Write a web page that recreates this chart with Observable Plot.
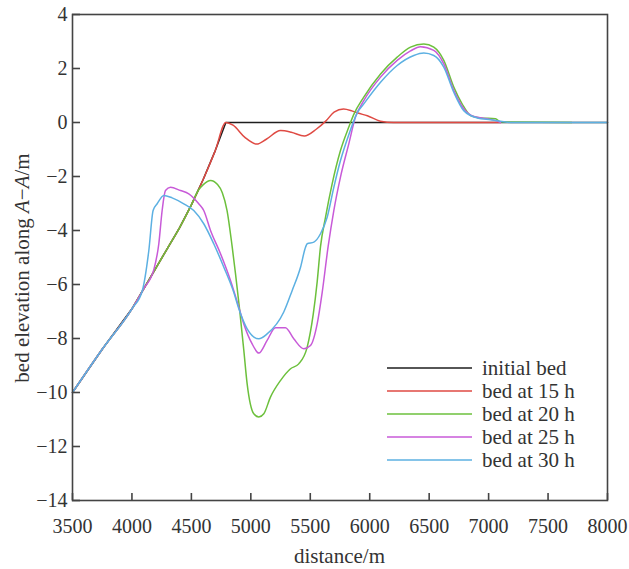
<!DOCTYPE html>
<html><head><meta charset="utf-8">
<script src="https://cdn.jsdelivr.net/npm/d3@7"></script>
<script src="https://cdn.jsdelivr.net/npm/@observablehq/plot@0.6"></script>
<style>body{margin:0;background:#fff;} svg text{font-family:"Liberation Serif","Times New Roman","DejaVu Serif",serif !important;}</style>
</head><body><div id="chart"></div>
<script>
const seriesNames = ["initial bed", "bed at 15 h", "bed at 20 h", "bed at 25 h", "bed at 30 h"];
const seriesColors = ["#1e1e1e", "#df4a43", "#6cc03c", "#c85ad8", "#5cb0e2"];
const xTicks = [3500, 4000, 4500, 5000, 5500, 6000, 6500, 7000, 7500, 8000];
const yTicks = [4, 2, 0, -2, -4, -6, -8, -10, -12, -14];

const bedX = [3500, 3750, 4000, 4100, 4200, 4300, 4400, 4500, 4600, 4700, 4790, 8000];
const bedY = [-10, -8.4, -6.9, -6.15, -5.4, -4.65, -3.9, -3.05, -2.1, -1.05, 0, 0];

const b15X = [3500, 3750, 4000, 4100, 4200, 4300, 4400, 4500, 4600, 4700, 4790, 4850, 4950, 5050, 5130, 5250, 5340, 5450, 5550, 5630, 5700, 5780, 5850, 5900, 5980, 6090, 6200, 7100];
const b15Y = [-10, -8.4, -6.9, -6.15, -5.4, -4.65, -3.9, -3.05, -2.1, -1.05, 0, -0.1, -0.55, -0.8, -0.62, -0.3, -0.36, -0.5, -0.25, 0.05, 0.38, 0.5, 0.43, 0.35, 0.25, 0.05, 0, 0];

const b20X = [3500, 3750, 4000, 4100, 4200, 4300, 4400, 4500, 4560, 4600, 4661, 4720, 4760, 4800, 4843, 4871, 4905, 4941, 4969, 5025, 5067, 5109, 5165, 5249, 5334, 5403, 5474, 5525, 5558, 5586, 5628, 5684, 5754, 5824, 5866, 5950, 6091, 6231, 6343, 6455, 6539, 6623, 6707, 6777, 6848, 6932, 7058, 7100, 7700];
const b20Y = [-10, -8.4, -6.9, -6.15, -5.4, -4.65, -3.9, -3.05, -2.5, -2.3, -2.15, -2.3, -2.6, -3.26, -4.6, -5.6, -6.9, -8.44, -9.68, -10.79, -10.91, -10.79, -10.17, -9.56, -9.12, -8.94, -8.32, -7.1, -5.9, -4.6, -3.51, -2.27, -1.04, -0.17, 0.3, 0.94, 1.8, 2.42, 2.79, 2.91, 2.79, 2.3, 1.31, 0.69, 0.26, 0.17, 0.14, 0.02, 0];

const b25X = [3500, 3750, 4000, 4100, 4184, 4226, 4254, 4282, 4324, 4408, 4478, 4562, 4604, 4661, 4745, 4829, 4899, 4941, 5011, 5067, 5137, 5207, 5291, 5361, 5446, 5502, 5558, 5600, 5650, 5698, 5754, 5824, 5880, 5950, 6091, 6231, 6343, 6427, 6539, 6623, 6707, 6791, 6876, 6988, 7072, 7100];
const b25Y = [-10, -8.4, -6.9, -6.15, -5.45, -4.49, -3.26, -2.52, -2.4, -2.52, -2.64, -3.01, -3.26, -4.0, -4.86, -5.85, -6.84, -7.46, -8.2, -8.54, -8.07, -7.6, -7.6, -8.01, -8.38, -8.26, -7.46, -6.3, -4.6, -3.26, -2.02, -0.79, 0.2, 0.81, 1.68, 2.3, 2.65, 2.81, 2.67, 2.17, 1.19, 0.51, 0.22, 0.14, 0.05, 0];

const b30X = [3500, 3750, 4000, 4086, 4142, 4178, 4212, 4268, 4338, 4436, 4520, 4604, 4688, 4773, 4857, 4899, 4969, 5067, 5137, 5277, 5348, 5418, 5460, 5474, 5530, 5586, 5642, 5698, 5754, 5824, 5894, 5950, 6091, 6231, 6371, 6455, 6539, 6623, 6707, 6791, 6904, 7016, 7100, 7200, 8000];
const b30Y = [-10, -8.4, -6.9, -6.25, -4.74, -3.26, -3.01, -2.7, -2.79, -3.01, -3.26, -3.75, -4.49, -5.36, -6.3, -6.9, -7.64, -8.01, -7.83, -7.02, -6.22, -5.36, -4.62, -4.49, -4.43, -4.12, -3.51, -2.4, -1.41, -0.45, 0.35, 0.69, 1.49, 2.11, 2.48, 2.57, 2.48, 2.05, 1.12, 0.44, 0.17, 0.1, 0.05, 0, 0];

const allX = [bedX, b15X, b20X, b25X, b30X];
const allY = [bedY, b15Y, b20Y, b25Y, b30Y];
const data = [];
seriesNames.forEach((name, i) => {
  allX[i].forEach((x, j) => data.push({series: name, x, y: allY[i][j]}));
});

const W = 629, H = 569, mL = 72, mR = 22, mT = 14, mB = 69;
const plotW = W - mL - mR, plotH = H - mT - mB;
const font = "Liberation Serif, Times New Roman, DejaVu Serif, serif";
const fmtY = d => d < 0 ? "\u2212" + Math.abs(d) : String(d);

const chart = Plot.plot({
  width: W, height: H,
  marginLeft: mL, marginRight: mR, marginTop: mT, marginBottom: mB,
  style: {fontFamily: font, fontSize: "20px", background: "#fff", color: "#333"},
  x: {domain: [3500, 8000]},
  y: {domain: [-14, 4]},
  color: {domain: seriesNames, range: seriesColors},
  marks: [
    Plot.line(data.filter(d => d.series === seriesNames[0]), {x: "x", y: "y", stroke: "series", strokeWidth: 1.5, curve: "linear"}),
    Plot.line(data.filter(d => d.series !== seriesNames[0]), {x: "x", y: "y", z: "series", stroke: "series", strokeWidth: 1.5, curve: "monotone-x"}),
    Plot.frame({stroke: "#444", strokeWidth: 1.6}),
    Plot.tickX(xTicks, {x: d => d, insetTop: plotH - 7, stroke: "#444", strokeWidth: 1.6}),
    Plot.tickY(yTicks, {y: d => d, insetRight: plotW - 8, stroke: "#444", strokeWidth: 1.6}),
    Plot.axisX(xTicks, {tickSize: 0, tickPadding: 18, tickFormat: d => String(d), label: null, fill: "#333"}),
    Plot.axisY(yTicks, {tickSize: 0, tickPadding: 5, tickFormat: fmtY, label: null, fill: "#333"})
  ]
});
document.getElementById("chart").appendChild(chart);

const svg = d3.select(chart);
// x label
svg.append("text").attr("x", mL + plotW / 2).attr("y", 563)
  .attr("text-anchor", "middle").attr("font-size", 21).attr("fill", "#333")
  .text("distance/m");
// y label
const yl = svg.append("text").attr("transform", `translate(29,${mT + plotH / 2 + 11}) rotate(-90)`)
  .attr("text-anchor", "middle").attr("font-size", 21).attr("fill", "#333");
yl.append("tspan").text("bed elevation along ");
yl.append("tspan").attr("font-style", "italic").text("A");
yl.append("tspan").text("\u2212");
yl.append("tspan").attr("font-style", "italic").text("A");
yl.append("tspan").text("/m");
// legend
const lg = svg.append("g").attr("font-size", 21).attr("fill", "#333").attr("text-anchor", "start");
seriesNames.forEach((name, i) => {
  const y = 368 + i * 23;
  lg.append("line").attr("x1", 387).attr("x2", 472).attr("y1", y).attr("y2", y)
    .attr("stroke", seriesColors[i]).attr("stroke-width", 1.5);
  lg.append("text").attr("x", 482).attr("y", y).attr("dy", "0.33em").attr("text-anchor", "start").text(name);
});
</script>
</body></html>
